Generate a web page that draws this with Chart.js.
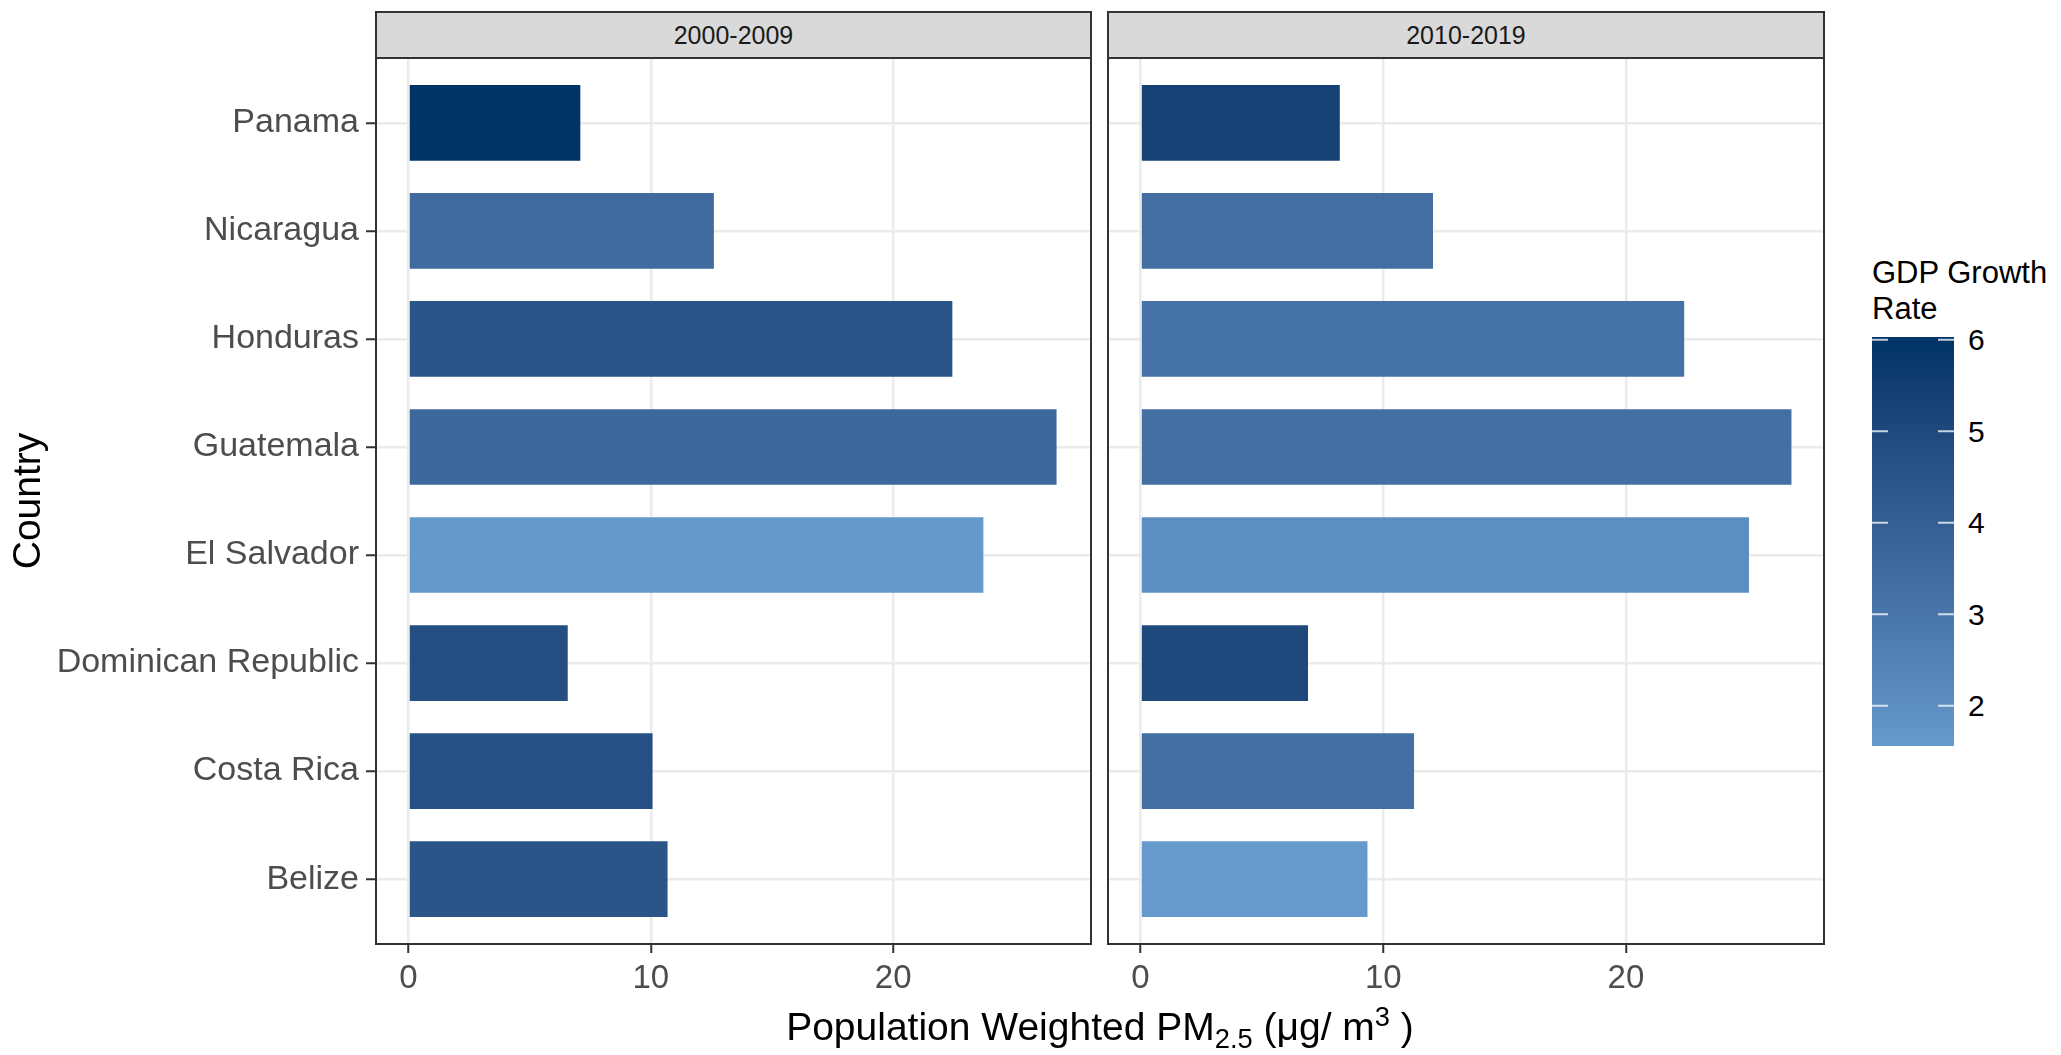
<!DOCTYPE html>
<html>
<head>
<meta charset="utf-8">
<script src="https://cdn.jsdelivr.net/npm/chart.js@4.4.1/dist/chart.umd.min.js"></script>
<style>
  html, body { margin: 0; padding: 0; background: #ffffff; }
  #wrap { position: relative; width: 2061px; height: 1055px; overflow: hidden;
          font-family: "Liberation Sans", Arial, sans-serif; }
  #wrap canvas { position: absolute; top: 0; }
  .strip { position: absolute; top: 11px; height: 48px; box-sizing: border-box;
           background: #d9d9d9; border: 2px solid #333333; color: #1a1a1a;
           font-size: 25px; line-height: 44px; text-align: center; }
  #xtitle { position: absolute; left: 600px; width: 1000px; top: 1004px; text-align: center;
            font-size: 39px; line-height: 46px; color: #000; white-space: nowrap; }
  #xtitle .sub { font-size: 0.7em; position: relative; top: 0.3em; }
  #xtitle .sup { font-size: 0.7em; position: relative; top: -0.5em; }
  #ltitle { position: absolute; left: 1872px; top: 255px; font-size: 31px; line-height: 36px;
            color: #000; white-space: nowrap; }
  .ltick { position: absolute; left: 1968px; font-size: 30px; line-height: 30px; color: #000; }
</style>
</head>
<body>
<div id="wrap">
  <canvas id="left" width="1100" height="1055" style="left:0px;width:1100px;height:1055px"></canvas>
  <canvas id="right" width="730" height="1055" style="left:1100px;width:730px;height:1055px"></canvas>
  <div class="strip" id="strip1" style="left:375px;width:717px"></div>
  <div class="strip" id="strip2" style="left:1107px;width:718px"></div>
  <div id="xtitle">Population Weighted PM<span class="sub">2.5</span> (μg/ m<span class="sup">3</span> )</div>
  <div id="ltitle">GDP Growth<br>Rate</div>
  <canvas id="colorbar" width="82" height="409" style="left:1872px;top:337px;width:82px;height:409px"></canvas>
</div>
<script>
// Countries, bottom to top
const countries = ["Belize", "Costa Rica", "Dominican Republic", "El Salvador",
                   "Guatemala", "Honduras", "Nicaragua", "Panama"];
const periods = ["2000-2009", "2010-2019"];

// Population weighted PM2.5 (µg/m³)
const pm2000 = [10.69, 10.07, 6.57, 23.72, 26.74, 22.44, 12.60, 7.09];
const pm2010 = [9.35, 11.27, 6.90, 25.07, 26.82, 22.40, 12.05, 8.21];

// Average GDP growth rate (%)
const gdp2000 = [4.45, 4.67, 4.76, 1.62, 3.62, 4.45, 3.49, 6.03];
const gdp2010 = [1.56, 3.30, 5.02, 2.00, 3.30, 3.14, 3.36, 5.37];

const xTicks = [0, 10, 20];
const legendTicks = [2, 3, 4, 5, 6];

const FONT = "'Liberation Sans', Arial, sans-serif";

// ---- colour scale: Lab interpolation between two ends ----
const lowColor = "#6699CC", highColor = "#003366";
function toLab(hex) {
  const n = parseInt(hex.slice(1), 16);
  const lin = c => c <= 0.04045 ? c / 12.92 : Math.pow((c + 0.055) / 1.055, 2.4);
  const r = lin(((n >> 16) & 255) / 255), g = lin(((n >> 8) & 255) / 255), b = lin((n & 255) / 255);
  const x = (r * 0.4124 + g * 0.3576 + b * 0.1805) / 0.95047;
  const y = (r * 0.2126 + g * 0.7152 + b * 0.0722);
  const z = (r * 0.0193 + g * 0.1192 + b * 0.9505) / 1.08883;
  const f = t => t > 0.008856 ? Math.cbrt(t) : (7.787 * t + 16 / 116);
  const fx = f(x), fy = f(y), fz = f(z);
  return [116 * fy - 16, 500 * (fx - fy), 200 * (fy - fz)];
}
function fromLab(L, a, bb) {
  const fy = (L + 16) / 116, fx = fy + a / 500, fz = fy - bb / 200;
  const inv = t => t * t * t > 0.008856 ? t * t * t : (t - 16 / 116) / 7.787;
  const x = inv(fx) * 0.95047, y = inv(fy), z = inv(fz) * 1.08883;
  const r = x * 3.2406 - y * 1.5372 - z * 0.4986;
  const g = -x * 0.9689 + y * 1.8758 + z * 0.0415;
  const b = x * 0.0557 - y * 0.2040 + z * 1.0570;
  const gam = c => {
    c = c <= 0.0031308 ? 12.92 * c : 1.055 * Math.pow(c, 1 / 2.4) - 0.055;
    return Math.round(Math.min(1, Math.max(0, c)) * 255);
  };
  return `rgb(${gam(r)},${gam(g)},${gam(b)})`;
}
const labLow = toLab(lowColor), labHigh = toLab(highColor);
const gdpMin = Math.min(...gdp2000, ...gdp2010);
const gdpMax = Math.max(...gdp2000, ...gdp2010);
function fillFor(v) {
  const t = (v - gdpMin) / (gdpMax - gdpMin);
  return fromLab(labLow[0] + (labHigh[0] - labLow[0]) * t,
                 labLow[1] + (labHigh[1] - labLow[1]) * t,
                 labLow[2] + (labHigh[2] - labLow[2]) * t);
}

// shared x range with 5% expansion on both sides
const pmMax = Math.max(...pm2000, ...pm2010);
const xMin = -0.05 * pmMax, xMax = 1.05 * pmMax;

// panel frame drawn over the bars
const panelBox = {
  id: 'panelBox',
  afterDraw(chart) {
    const { ctx, chartArea: a } = chart;
    ctx.save();
    ctx.strokeStyle = '#333333';
    ctx.lineWidth = 2;
    ctx.strokeRect(a.left, a.top, a.right - a.left, a.bottom - a.top);
    ctx.restore();
  }
};

function makePanel(id, pm, gdp, showY, padding) {
  return new Chart(document.getElementById(id), {
    type: 'bar',
    data: {
      datasets: [{
        data: countries.map((c, i) => ({ x: pm[i], y: i })),
        backgroundColor: gdp.map(fillFor),
        borderWidth: 0,
        barPercentage: 0.7,
        categoryPercentage: 1.0
      }]
    },
    options: {
      indexAxis: 'y',
      responsive: false,
      animation: false,
      events: [],
      layout: { padding },
      plugins: { legend: { display: false }, tooltip: { enabled: false } },
      scales: {
        x: {
          type: 'linear', min: xMin, max: xMax, offset: false,
          afterBuildTicks: s => { s.ticks = xTicks.map(v => ({ value: v })); },
          ticks: { font: { family: FONT, size: 33 }, color: '#4d4d4d', padding: 6 },
          grid: { offset: false, color: '#ebebeb', lineWidth: 2.5, tickColor: '#333333',
                  tickWidth: 2, tickLength: 9 },
          border: { display: false },
          afterFit: s => { s.height = 111; }
        },
        y: {
          type: 'linear', min: -0.6, max: countries.length - 0.4, offset: false,
          afterBuildTicks: s => { s.ticks = countries.map((c, i) => ({ value: i })); },
          ticks: { display: showY, autoSkip: false, callback: v => countries[v],
                   font: { family: FONT, size: 34 }, color: '#4d4d4d', padding: 7 },
          grid: { offset: false, color: '#ebebeb', lineWidth: 2.5, tickColor: '#333333', tickWidth: 2,
                  drawTicks: showY, tickLength: showY ? 10 : 0 },
          border: { display: false },
          title: { display: showY, text: 'Country', color: '#000000',
                   font: { family: FONT, size: 39 }, padding: { top: 6, bottom: 0 } },
          afterFit: s => { s.width = showY ? 376 : 0; }
        }
      }
    },
    plugins: [panelBox]
  });
}

makePanel('left', pm2000, gdp2000, true, { left: 0, right: 9, top: 58, bottom: 0 });
makePanel('right', pm2010, gdp2010, false, { left: 8, right: 6, top: 58, bottom: 0 });

document.getElementById('strip1').textContent = periods[0];
document.getElementById('strip2').textContent = periods[1];

// colour bar legend
(function () {
  const cv = document.getElementById('colorbar');
  const ctx = cv.getContext('2d');
  const w = cv.width, h = cv.height;
  for (let row = 0; row < h; row++) {
    const v = gdpMax - (row + 0.5) / h * (gdpMax - gdpMin);
    ctx.fillStyle = fillFor(v);
    ctx.fillRect(0, row, w, 1);
  }
  ctx.strokeStyle = 'rgba(255,255,255,0.75)';
  ctx.lineWidth = 2;
  const wrap = document.getElementById('wrap');
  legendTicks.forEach(v => {
    const y = (gdpMax - v) / (gdpMax - gdpMin) * h;
    ctx.beginPath();
    ctx.moveTo(0, y); ctx.lineTo(16, y);
    ctx.moveTo(w - 16, y); ctx.lineTo(w, y);
    ctx.stroke();
    const lab = document.createElement('div');
    lab.className = 'ltick';
    lab.textContent = String(v);
    lab.style.top = (337 + y - 14.7) + 'px';
    wrap.appendChild(lab);
  });
})();
</script>
</body>
</html>
